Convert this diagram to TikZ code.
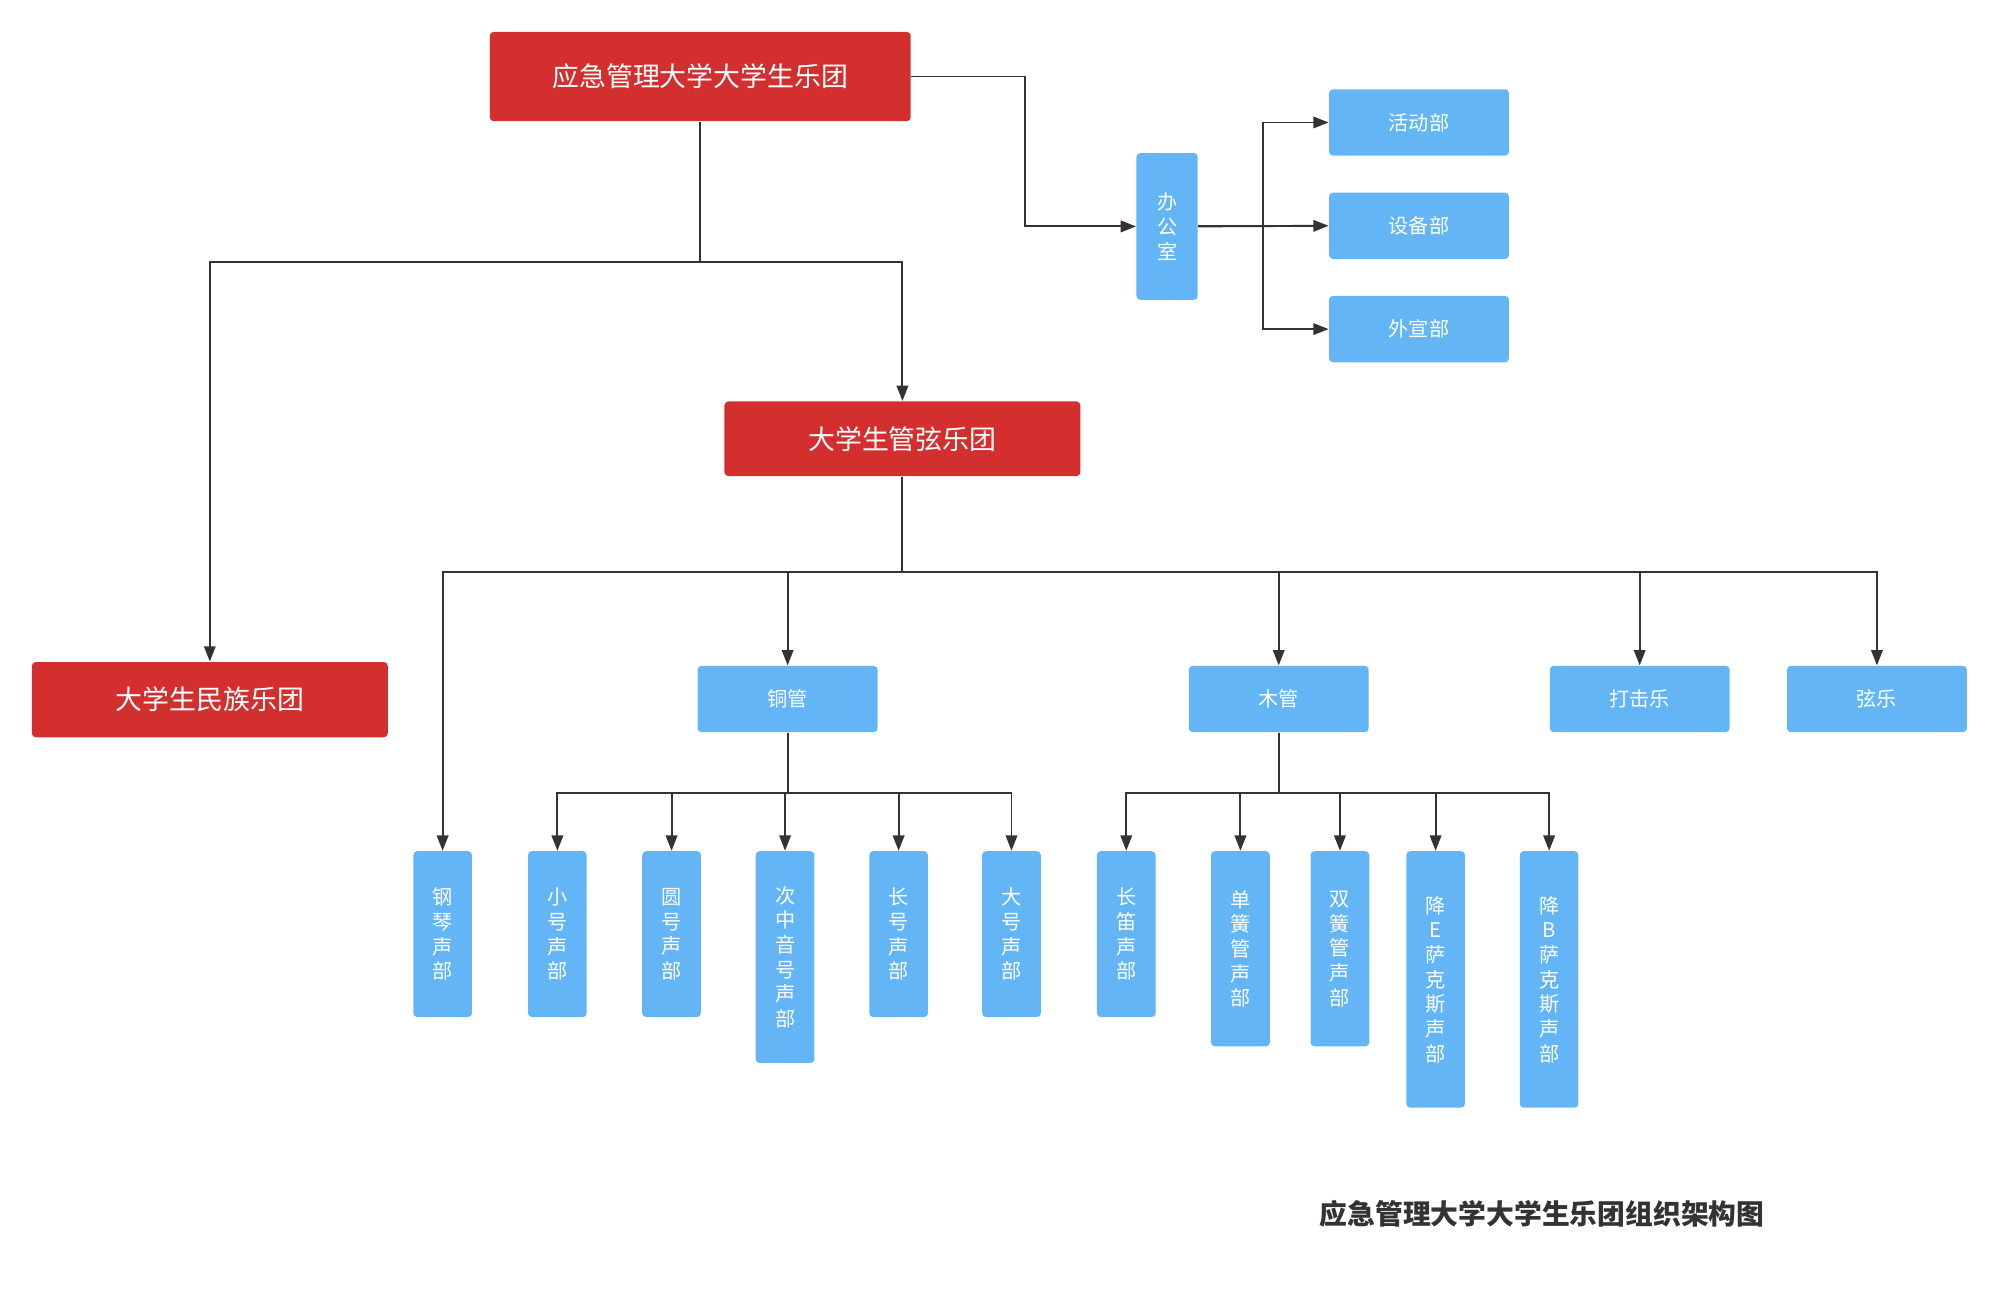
\documentclass[tikz,border=0pt]{standalone}
\usepackage{fontspec}
\newfontfamily\cjk{Noto Sans CJK SC}
\usetikzlibrary{arrows.meta}
\definecolor{bandred}{HTML}{D32F2F}
\definecolor{deptblue}{HTML}{64B5F6}
\definecolor{linegray}{HTML}{333333}

\begin{document}
\begin{tikzpicture}[
            x = 0.2mm, y = -0.2mm, % one unit = one pixel, y downwards
            > = {Triangle[length=2.4mm, width=1.8mm]}, % arrow head style
            font = \cjk
        ]

        \tikzstyle{band}=[
            fill = bandred,
            text = white,
            rounded corners = 0.6mm,
            inner sep = 0pt,
            font = \cjk\fontsize{12}{14}\selectfont
        ]
        \tikzstyle{dept}=[
            fill = deptblue,
            text = white,
            rounded corners = 0.6mm,
            inner sep = 0pt,
            minimum width = 28.2mm,
            minimum height = 10.4mm,
            font = \cjk\fontsize{9}{11}\selectfont
        ]
        \tikzstyle{voice}=[
            dept,
            anchor = north,
            align = center,
            minimum width = 9.2mm,
            minimum height = 26mm
        ]
        \tikzstyle{link}=[
            ->,
            draw = linegray,
            line width = 0.3mm
        ]

        \useasboundingbox (0,0) rectangle (1568,1014);

        \node[band, minimum width=66mm, minimum height=14mm] (top) at (549,60) {应急管理大学大学生乐团};
        \node[dept, align=center, minimum width=9.6mm, minimum height=23mm] (office) at (915,177.5) {办\\公\\室};

        \node[dept] (act) at (1112.5,96)  {活动部};
        \node[dept] (equip) at (1112.5,177) {设备部};
        \node[dept] (pub) at (1112.5,258) {外宣部};

        \node[band, minimum width=55.8mm, minimum height=11.7mm] (orch) at (707.5,344) {大学生管弦乐团};
        \node[band, minimum width=55.8mm, minimum height=11.8mm] (folk) at (164.5,548.5) {大学生民族乐团};

        \node[dept] (brass) at (617.5,548)  {铜管};
        \node[dept] (wood) at (1002.5,548)  {木管};
        \node[dept] (perc) at (1285.5,548)  {打击乐};
        \node[dept] (string) at (1471.5,548) {弦乐};

        \node[voice] (piano) at (347,667)   {钢\\琴\\声\\部};
        \node[voice] (trumpet) at (437,667) {小\\号\\声\\部};
        \node[voice] (horn) at (526.5,667)  {圆\\号\\声\\部};
        \node[voice, minimum height=33.2mm] (tenor) at (615.5,667) {次\\中\\音\\号\\声\\部};
        \node[voice] (trombone) at (704.5,667) {长\\号\\声\\部};
        \node[voice] (tuba) at (793,667)    {大\\号\\声\\部};

        \node[voice] (flute) at (883,667)   {长\\笛\\声\\部};
        \node[voice, minimum height=30.6mm] (clarinet) at (972.5,667) {单\\簧\\管\\声\\部};
        \node[voice, minimum height=30.6mm] (oboe) at (1050.5,667)    {双\\簧\\管\\声\\部};
        \node[voice, minimum height=40.2mm] (altosax) at (1125.5,667) {降\\E\\萨\\克\\斯\\声\\部};
        \node[voice, minimum height=40.2mm] (tenorsax) at (1214.5,667) {降\\B\\萨\\克\\斯\\声\\部};

        % top level
        \draw[link] (top.east) -- ++(89,0) |- (office.west);
        \draw[link] (top.south) -- ++(0,110) -| (folk.north);
        \draw[link] (top.south) -- ++(0,110) -| (orch.north);

        % office
        \draw[link] (office.east) -- ++(51,0) |- (act.west);
        \draw[link] (office.east) -- (equip.west);
        \draw[link] (office.east) -- ++(51,0) |- (pub.west);

        % orchestra sections
        \draw[link] (orch.south) -- ++(0,75) -| (piano.north);
        \draw[link] (orch.south) -- ++(0,75) -| (brass.north);
        \draw[link] (orch.south) -- ++(0,75) -| (wood.north);
        \draw[link] (orch.south) -- ++(0,75) -| (perc.north);
        \draw[link] (orch.south) -- ++(0,75) -| (string.north);

        % brass voices
        \draw[link] (brass.south) -- ++(0,47) -| (trumpet.north);
        \draw[link] (brass.south) -- ++(0,47) -| (horn.north);
        \draw[link] (brass.south) -- ++(0,47) -| (tenor.north);
        \draw[link] (brass.south) -- ++(0,47) -| (trombone.north);
        \draw[link] (brass.south) -- ++(0,47) -| (tuba.north);

        % woodwind voices
        \draw[link] (wood.south) -- ++(0,47) -| (flute.north);
        \draw[link] (wood.south) -- ++(0,47) -| (clarinet.north);
        \draw[link] (wood.south) -- ++(0,47) -| (oboe.north);
        \draw[link] (wood.south) -- ++(0,47) -| (altosax.north);
        \draw[link] (wood.south) -- ++(0,47) -| (tenorsax.north);

        \node[text=linegray, font=\cjk\bfseries\fontsize{12.4}{15}\selectfont] (title) at (1209,952) {应急管理大学大学生乐团组织架构图};
    \end{tikzpicture}
\end{document}
